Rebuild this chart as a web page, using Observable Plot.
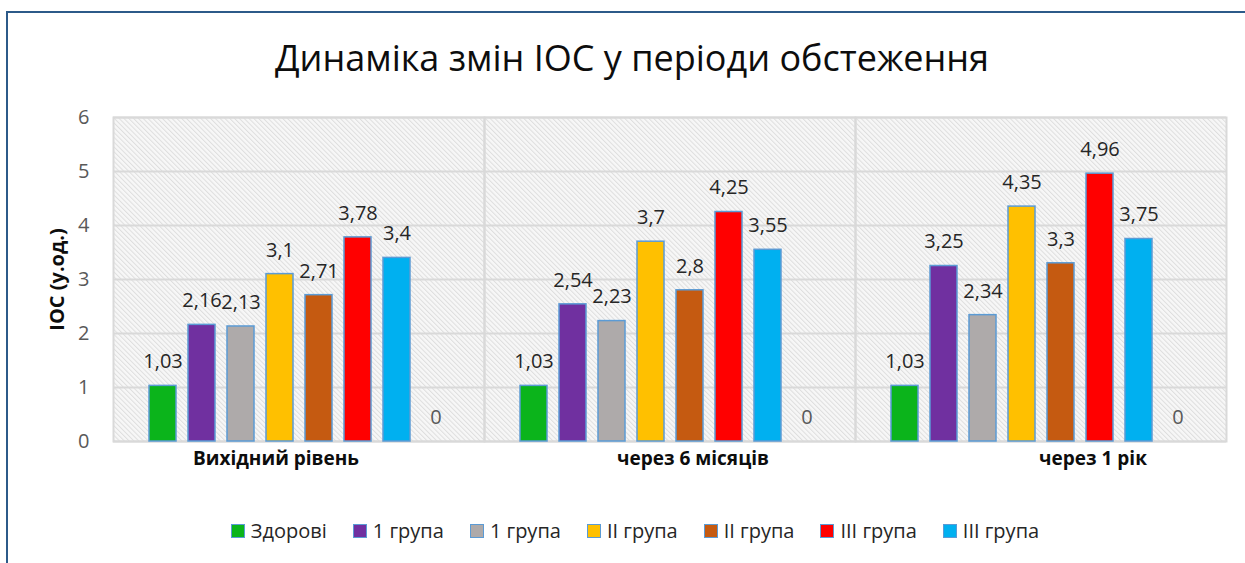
<!DOCTYPE html>
<html>
<head>
<meta charset="utf-8">
<script src="https://cdn.jsdelivr.net/npm/d3@7"></script>
<script src="https://cdn.jsdelivr.net/npm/@observablehq/plot@0.6"></script>
<style>
  html, body { margin: 0; padding: 0; background: #fff; }
  #wrap { position: relative; width: 1245px; height: 563px; overflow: hidden; font-family: "Open Sans", sans-serif; color: #262626; }
  #border { position: absolute; left: 6px; top: 11px; width: 1300px; height: 620px; border: 2.5px solid #2c5a89; box-sizing: border-box; }
  #title { position: absolute; left: 0; top: 40px; width: 1264px; text-align: center; font-size: 36px; line-height: 36px; color: #0d0d0d; white-space: nowrap; }
  #chart { position: absolute; left: 0; top: 0; }
  #legend { position: absolute; left: 0; top: 521px; width: 1270px; height: 20px; display: flex; justify-content: center; align-items: center; gap: 26px; font-size: 20px; line-height: 20px; }
  .item { display: flex; align-items: center; white-space: nowrap; }
  .sw { width: 14px; height: 14px; box-sizing: border-box; border: 1.5px solid #5b9bd5; margin-right: 6px; }
</style>
</head>
<body>
<div id="wrap">
  <div id="border"></div>
  <div id="chart"></div>
  <div id="title"></div>
  <div id="legend"></div>
</div>
<script>
const titleText = "Динаміка змін ІОС у періоди обстеження";
const yLabel = "ІОС (у.од.)";
const categories = ["Вихідний рівень", "через 6 місяців", "через 1 рік"];
const seriesNames = ["Здорові", "1 група", "1 група", "II група", "II група", "III група", "III група", ""];
const seriesColors = ["#0bb41b", "#7030a0", "#aeaaaa", "#ffc000", "#c55a11", "#ff0000", "#00b0f0", "#ffffff"];
const zdorovi = [1.03, 1.03, 1.03];
const grupa1a = [2.16, 2.54, 3.25];
const grupa1b = [2.13, 2.23, 2.34];
const grupa2a = [3.1, 3.7, 4.35];
const grupa2b = [2.71, 2.8, 3.3];
const grupa3a = [3.78, 4.25, 4.96];
const grupa3b = [3.4, 3.55, 3.75];
const blank = [0, 0, 0];
const yTicks = [0, 1, 2, 3, 4, 5, 6];

const seriesValues = [zdorovi, grupa1a, grupa1b, grupa2a, grupa2b, grupa3a, grupa3b, blank];
const keys = seriesNames.map((_, i) => "s" + i);
const rows = [];
categories.forEach((c, ci) => {
  seriesValues.forEach((vals, si) => {
    rows.push({cat: c, key: keys[si], idx: si, v: vals[ci]});
  });
});
const fmt = d => String(d).replace(".", ",");
const catDx = [-23, 23, 52];

document.getElementById("title").textContent = titleText;

const marks = [
  Plot.frame({fill: "url(#hatch)"}),
  Plot.gridY({ticks: yTicks, stroke: "#d9d9d9", strokeOpacity: 1, strokeWidth: 2}),
  Plot.frame({stroke: "#d9d9d9", strokeWidth: 2}),
  Plot.barY(rows.filter(d => d.v > 0), {fx: "cat", x: "key", y: "v", fill: "key", stroke: "#5b9bd5", strokeWidth: 1.5}),
  Plot.text(rows.filter(d => d.idx < 7), {fx: "cat", x: "key", y: "v", text: d => fmt(d.v), dy: -24, fontSize: 20, fill: "#262626"}),
  Plot.text(rows.filter(d => d.idx === 7), {fx: "cat", x: "key", y: "v", text: d => fmt(d.v), dy: -24, fontSize: 20, fill: "#595959"}),
  Plot.axisY({ticks: yTicks, tickFormat: d => String(d), tickSize: 0, tickPadding: 24, fontSize: 20, color: "#595959", label: null}),
  Plot.text([yLabel], {frameAnchor: "left", textAnchor: "middle", text: d => d, rotate: -90, dx: -56, dy: 0, fontSize: 20, fontWeight: "bold", fill: "#0d0d0d", facetAnchor: "left"})
];
categories.forEach((c, i) => {
  marks.push(Plot.text([c], {fx: d => d, text: d => d, frameAnchor: "bottom", dy: 23, dx: catDx[i], fontSize: 19, fontWeight: "bold", fill: "#0d0d0d"}));
});

const svg = Plot.plot({
  width: 1245,
  height: 500,
  marginLeft: 113,
  marginRight: 19,
  marginTop: 117,
  marginBottom: 59,
  style: {fontFamily: "Open Sans, sans-serif", background: "transparent", overflow: "visible"},
  fx: {domain: categories, paddingInner: 0, paddingOuter: 0, axis: null, label: null},
  x: {domain: keys, paddingInner: 0.31, paddingOuter: 0.91, axis: null, label: null},
  y: {domain: [0, 6], label: null},
  color: {type: "ordinal", domain: keys, range: seriesColors},
  marks
});

const sel = d3.select(svg);
const pat = sel.insert("defs", ":first-child").append("pattern")
  .attr("id", "hatch").attr("patternUnits", "userSpaceOnUse")
  .attr("width", 3.4).attr("height", 3.4).attr("patternTransform", "rotate(-45)");
pat.append("rect").attr("width", 3.4).attr("height", 3.4).attr("fill", "#f7f7f7");
pat.append("line").attr("x1", 0.5).attr("y1", 0).attr("x2", 0.5).attr("y2", 3.4).attr("stroke", "#dedede").attr("stroke-width", 1);

document.getElementById("chart").appendChild(svg);

const legend = document.getElementById("legend");
seriesNames.slice(0, 7).forEach((name, i) => {
  const item = document.createElement("div");
  item.className = "item";
  const sw = document.createElement("span");
  sw.className = "sw";
  sw.style.background = seriesColors[i];
  const t = document.createElement("span");
  t.textContent = name;
  item.appendChild(sw);
  item.appendChild(t);
  legend.appendChild(item);
});
</script>
</body>
</html>
